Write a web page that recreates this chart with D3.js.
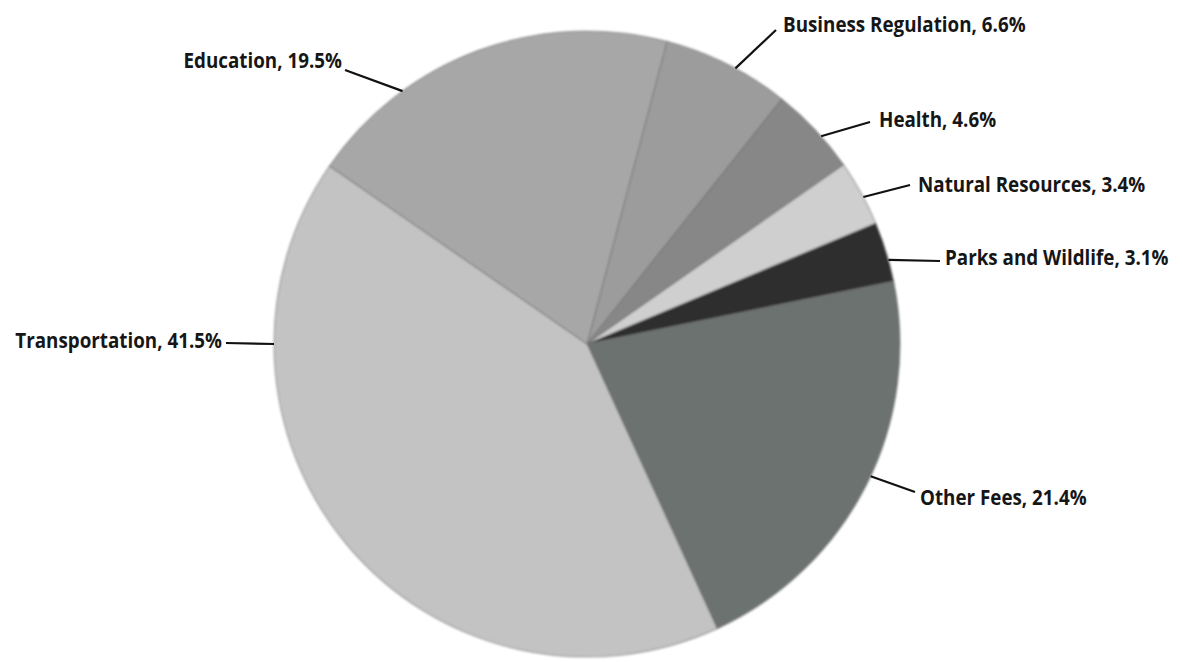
<!DOCTYPE html>
<html>
<head>
<meta charset="utf-8">
<script src="https://cdn.jsdelivr.net/npm/d3@7"></script>
<style>
  html, body { margin: 0; padding: 0; background: #ffffff; }
  svg { display: block; }
  .lbl { font-family: "Open Sans", "Noto Sans", sans-serif; font-weight: 700; font-size: 22px; fill: #161616; }
</style>
</head>
<body>
<svg id="chart" width="1182" height="662"></svg>
<script>
// ---- data (clockwise from the top) ----
const categories = ["Business Regulation", "Health", "Natural Resources", "Parks and Wildlife", "Other Fees", "Transportation", "Education"];
const shares = [6.6, 4.6, 3.4, 3.1, 21.4, 41.5, 19.5];
const shadeList = ["#9c9c9c", "#878787", "#cfcfcf", "#2e2e2e", "#6c7270", "#c3c3c3", "#a7a7a7"];

// ---- layout ----
const W = 1182, H = 662;
const cx = 587, cy = 344, R = 313;
const startDeg = 14.8;
const deg = Math.PI / 180;
const condense = 0.855;

// label layout: leader start angle on the rim (deg), leader end point, text anchor point
const labelLayout = {
  "Education":          { a: 323.9, ex: 345, ey: 70,  tx: 342, ty: 68,  anchor: "end" },
  "Business Regulation":{ a: 28.3,  ex: 776, ey: 30,  tx: 783, ty: 32,  anchor: "start" },
  "Health":             { a: 48.4,  ex: 870, ey: 122, tx: 879, ty: 127, anchor: "start" },
  "Natural Resources":  { a: 62.0,  ex: 910, ey: 185, tx: 918, ty: 192, anchor: "start" },
  "Parks and Wildlife": { a: 74.4,  ex: 940, ey: 261, tx: 945, ty: 265, anchor: "start" },
  "Other Fees":         { a: 115.0, ex: 915, ey: 492, tx: 920, ty: 505, anchor: "start" },
  "Transportation":     { a: 270.0, ex: 226, ey: 343, tx: 222, ty: 348, anchor: "end" }
};

const data = categories.map((c, i) => ({ name: c, value: shares[i], shade: shadeList[i] }));

const svg = d3.select("#chart");

const defs = svg.append("defs");
defs.append("filter").attr("id", "soft")
  .attr("x", "-5%").attr("y", "-5%").attr("width", "110%").attr("height", "110%")
  .append("feGaussianBlur").attr("stdDeviation", 1.3);

const color = d3.scaleOrdinal().domain(categories).range(shadeList);

const pie = d3.pie()
  .sort(null)
  .value(d => d.value)
  .startAngle(startDeg * deg)
  .endAngle(startDeg * deg + 2 * Math.PI);

const arc = d3.arc().innerRadius(0).outerRadius(R);

const g = svg.append("g").attr("transform", `translate(${cx},${cy})`).attr("filter", "url(#soft)");

g.selectAll("path.slice")
  .data(pie(data))
  .join("path")
  .attr("class", "slice")
  .attr("d", arc)
  .attr("fill", d => color(d.data.name))
  .attr("stroke", "#6a6a6a")
  .attr("stroke-opacity", 0.55)
  .attr("stroke-width", 1.2)
  .attr("stroke-linejoin", "round");

// labels and leader lines
const lg = svg.append("g");
data.forEach(d => {
  const L = labelLayout[d.name];
  const a = L.a * deg;
  const sx = cx + R * Math.sin(a);
  const sy = cy - R * Math.cos(a);
  lg.append("line")
    .attr("x1", sx).attr("y1", sy)
    .attr("x2", L.ex).attr("y2", L.ey)
    .attr("stroke", "#111").attr("stroke-width", 2.2).attr("stroke-linecap", "butt");
  lg.append("text")
    .attr("class", "lbl")
    .attr("transform", `translate(${L.tx},${L.ty}) scale(${condense},1)`)
    .attr("x", 0).attr("y", 0)
    .attr("text-anchor", L.anchor)
    .text(`${d.name}, ${d.value.toFixed(1)}%`);
});
</script>
</body>
</html>
